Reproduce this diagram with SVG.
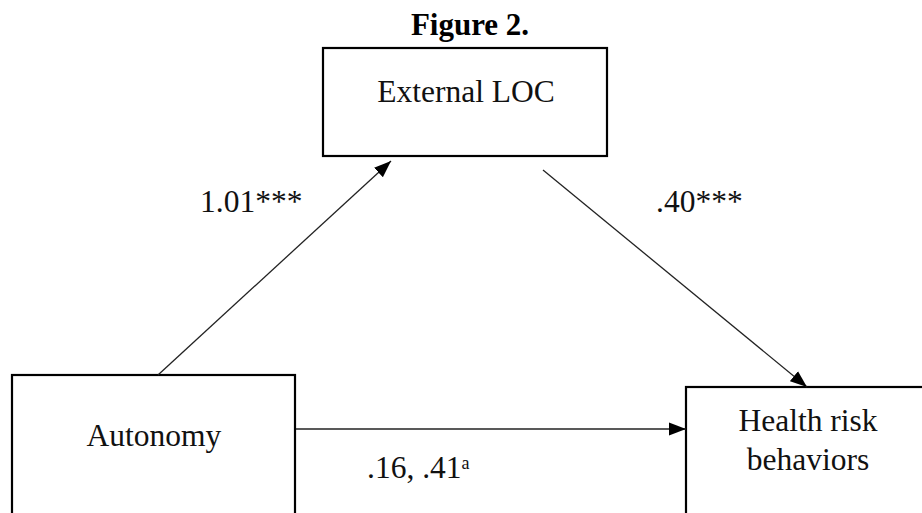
<svg xmlns="http://www.w3.org/2000/svg" width="922" height="513" viewBox="0 0 922 513">
  <style>
    .box { fill: #ffffff; stroke: #000000; stroke-width: 2.2; }
    .lbl { font-family: "Liberation Serif", "Times New Roman", serif; font-size: 31.5px; fill: #111111; }
    .title { font-family: "Liberation Serif", "Times New Roman", serif; font-size: 31px; font-weight: bold; fill: #000000; }
    .edge { stroke: #222222; stroke-width: 1.3; fill: none; marker-end: url(#arrow); }
  </style>
  <defs>
    <marker id="arrow" markerUnits="userSpaceOnUse" markerWidth="18" markerHeight="14" refX="17" refY="7" orient="auto">
      <path d="M0,0.5 L17,7 L0,13.5 z" fill="#000000"/>
    </marker>
  </defs>
  <rect width="922" height="513" fill="#ffffff"/>

  <text class="title" x="470" y="35" text-anchor="middle">Figure 2.</text>

  <g id="external-loc">
    <rect class="box" x="323" y="48" width="284" height="108"/>
    <text class="lbl" x="466" y="102" text-anchor="middle">External LOC</text>
  </g>

  <g id="autonomy">
    <rect class="box" x="12" y="375" width="283" height="150"/>
    <text class="lbl" x="154" y="446" text-anchor="middle">Autonomy</text>
  </g>

  <g id="health-risk-behaviors">
    <rect class="box" x="686" y="387" width="250" height="140"/>
    <text class="lbl" x="808" y="431" text-anchor="middle">Health risk</text>
    <text class="lbl" x="808" y="470" text-anchor="middle">behaviors</text>
  </g>

  <g id="connectors">
    <line class="edge" x1="158" y1="375" x2="391" y2="161"/>
    <line class="edge" x1="543" y1="170" x2="807" y2="387"/>
    <line class="edge" x1="296" y1="429" x2="686" y2="429"/>
    <text class="lbl" x="200" y="212">1.01***</text>
    <text class="lbl" x="656" y="212">.40***</text>
    <text class="lbl" x="367" y="478">.16, .41<tspan font-size="18" dy="-9">a</tspan></text>
  </g>
</svg>
